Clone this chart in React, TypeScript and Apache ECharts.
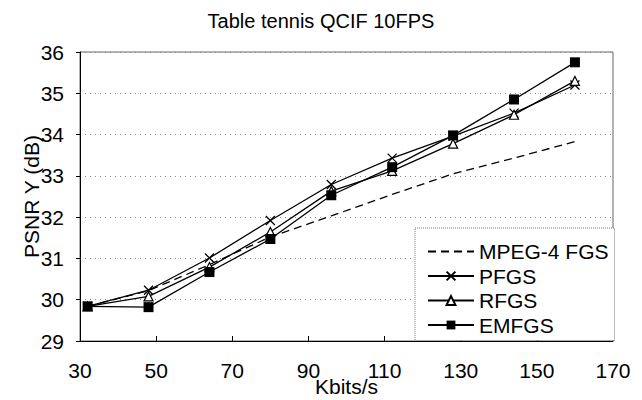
import React, { useEffect, useRef } from "react";
import * as echarts from "echarts";

// Bit rates (Kbits/s) at which each coder was measured
const bitRates = [32, 48, 64, 80, 96, 112, 128, 144, 160];

// PSNR Y (dB) per coder
const mpeg4Fgs = [29.84, 30.22, 30.85, 31.52, 32.03, 32.55, 33.05, 33.43, 33.83];
const pfgs = [29.84, 30.23, 31.01, 31.92, 32.79, 33.43, 33.96, 34.52, 35.2];
const rfgs = [29.84, 30.08, 30.79, 31.64, 32.63, 33.12, 33.78, 34.48, 35.3];
const emfgs = [29.84, 29.82, 30.67, 31.47, 32.53, 33.21, 33.98, 34.85, 35.75];

const seriesNames = ["MPEG-4 FGS", "PFGS", "RFGS", "EMFGS"];
const xTicks = [30, 50, 70, 90, 110, 130, 150, 170];
const yTicks = [29, 30, 31, 32, 33, 34, 35, 36];

const FONT = "'Liberation Sans', Arial, sans-serif";
const CROSS = "path://M0,0L10,10M0,10L10,0";

const pairs = (ys: number[]) => bitRates.map((x, i) => [x, ys[i]]);

export default function App() {
  const ref = useRef<HTMLDivElement>(null);

  useEffect(() => {
    if (!ref.current) return;
    const chart = echarts.init(ref.current, undefined, { renderer: "svg" });

    const line = { color: "#000", width: 1.3 };

    chart.setOption({
      animation: false,
      backgroundColor: "#fff",
      textStyle: { fontFamily: FONT },
      title: {
        text: "Table tennis QCIF 10FPS",
        left: "center",
        top: 6,
        textStyle: { fontFamily: FONT, fontSize: 20, fontWeight: "normal", color: "#000" },
      },
      grid: {
        left: 80,
        right: 29,
        top: 52,
        bottom: 59,
        containLabel: false,
        outerBoundsMode: "none",
        show: true,
        borderColor: "#666",
        borderWidth: 1,
        backgroundColor: "#fff",
      },
      legend: {
        orient: "vertical",
        left: 415,
        top: 228,
        padding: [13, 6, 5, 12],
        itemWidth: 46,
        itemHeight: 11,
        itemGap: 3.5,
        backgroundColor: "#fff",
        borderColor: "#777",
        borderWidth: 1,
        borderType: "dotted",
        textStyle: { fontFamily: FONT, fontSize: 21, color: "#000" },
        data: [
          { name: seriesNames[0], itemStyle: { color: "rgba(0,0,0,0)", borderWidth: 0 } },
          { name: seriesNames[1] },
          { name: seriesNames[2] },
          { name: seriesNames[3] },
        ],
      },
      xAxis: {
        type: "value",
        min: xTicks[0],
        max: xTicks[xTicks.length - 1],
        interval: 20,
        name: "Kbits/s",
        nameLocation: "middle",
        nameGap: 35,
        nameMoveOverlap: false,
        nameTextStyle: { fontFamily: FONT, fontSize: 21, color: "#000" },
        axisLine: { lineStyle: { color: "#000", width: 1 } },
        axisTick: { show: true, inside: true, length: 5, lineStyle: { color: "#000" } },
        axisLabel: { fontFamily: FONT, fontSize: 21, color: "#000", margin: 19 },
        splitLine: { show: false },
      },
      yAxis: {
        type: "value",
        min: yTicks[0],
        max: yTicks[yTicks.length - 1],
        interval: 1,
        name: "PSNR Y (dB)",
        nameLocation: "middle",
        nameGap: 38,
        nameMoveOverlap: false,
        nameTextStyle: { fontFamily: FONT, fontSize: 21, color: "#000" },
        axisLine: { show: true, lineStyle: { color: "#000", width: 1 } },
        axisTick: { show: true, length: 4, lineStyle: { color: "#000" } },
        axisLabel: { fontFamily: FONT, fontSize: 21, color: "#000", margin: 16 },
        splitLine: { show: true, lineStyle: { color: "#888", type: [1, 4], width: 1 } },
      },
      series: [
        {
          name: seriesNames[0],
          type: "line",
          data: pairs(mpeg4Fgs),
          showSymbol: false,
          symbol: "circle",
          itemStyle: { color: "#000" },
          lineStyle: { ...line, type: [8, 5] },
          z: 2,
        },
        {
          name: seriesNames[1],
          type: "line",
          data: pairs(pfgs),
          symbol: CROSS,
          symbolSize: 9,
          itemStyle: { color: "#000", borderColor: "#000", borderWidth: 1.3 },
          lineStyle: line,
          z: 3,
        },
        {
          name: seriesNames[2],
          type: "line",
          data: pairs(rfgs),
          symbol: "triangle",
          symbolSize: 9,
          itemStyle: { color: "#fff", borderColor: "#000", borderWidth: 1.2 },
          lineStyle: line,
          z: 4,
        },
        {
          name: seriesNames[3],
          type: "line",
          data: pairs(emfgs),
          symbol: "rect",
          symbolSize: 10,
          itemStyle: { color: "#000", borderColor: "#000", borderWidth: 0 },
          lineStyle: line,
          z: 5,
        },
      ],
    });

    return () => chart.dispose();
  }, []);

  return <div ref={ref} style={{ width: 642, height: 400, position: "absolute", left: 0, top: 0 }} />;
}
